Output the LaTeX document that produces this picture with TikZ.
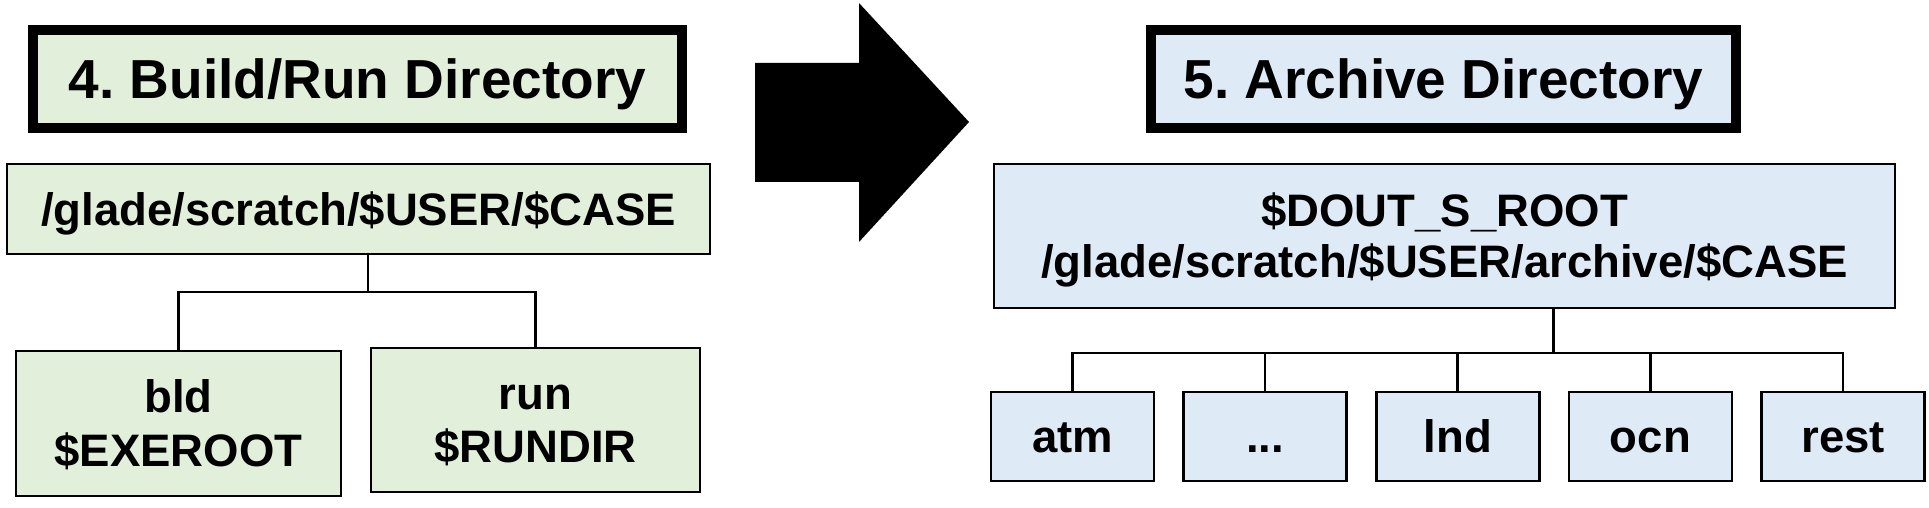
\documentclass[tikz,border=0pt]{standalone}
\usepackage{fontspec}
\setmainfont{Liberation Sans}
\usetikzlibrary{positioning}
\definecolor{buildgreen}{HTML}{E2EFDA}
\definecolor{archiveblue}{HTML}{DEEBF7}
\newcommand{\topstrut}{\rule{0pt}{1.0em}}
\newcommand{\botstrut}{\rule[-0.3em]{0pt}{0.3em}}

\begin{document}
\frenchspacing
\begin{tikzpicture}[
        node distance=0.54cm,
        title_box/.style={draw, rectangle, line width=0.2cm, minimum width=12.98cm, minimum height=1.96cm, inner sep=0pt, text height=22.4pt, text depth=0pt, font=\fontsize{31.3}{36}\selectfont\bfseries},
        dir_box/.style={draw, rectangle, line width=1.5pt, align=center, inner sep=0pt, font=\fontsize{25.9}{30.6}\selectfont\bfseries},
        comp_box/.style={dir_box, fill=archiveblue, minimum width=3.26cm, minimum height=1.78cm, text height=18.5pt, text depth=0pt},
        tree_line/.style={line width=1.5pt}
    ]
        \useasboundingbox (0,0) rectangle (38.58,10.16);

        % build / run side
        \node[title_box, fill=buildgreen] (build_title) at (7.15, 8.58) {4. Build/Run Directory};
        \node[dir_box, fill=buildgreen, minimum width=14.06cm, minimum height=1.8cm, text height=18.5pt, text depth=0pt] (case_dir) at (7.17, 5.98) {/glade/scratch/\$USER/\$CASE};
        \node[dir_box, fill=buildgreen, minimum width=6.5cm, minimum height=2.9cm] (bld_dir) at (3.57, 1.69) {\topstrut bld\\\$EXEROOT\botstrut};
        \node[dir_box, fill=buildgreen, minimum width=6.58cm, minimum height=2.88cm] (run_dir) at (10.71, 1.76) {\topstrut run\\\$RUNDIR\botstrut};

        \coordinate (build_split) at (7.36, 4.32);
        \draw[tree_line] (case_dir.south -| build_split) -- (build_split);
        \draw[tree_line] (bld_dir.north) |- (build_split) -| (run_dir.north);

        % big arrow
        \fill (15.1,8.9) -- (17.18,8.9) -- (17.18,10.1) -- (19.38,7.72) -- (17.18,5.32) -- (17.18,6.52) -- (15.1,6.52) -- cycle;

        % archive side
        \node[title_box, fill=archiveblue, minimum width=11.7cm] (archive_title) at (28.87, 8.58) {5. Archive Directory};
        \node[dir_box, fill=archiveblue, minimum width=18.02cm, minimum height=2.88cm, font=\fontsize{25.9}{29}\selectfont\bfseries] (dout_dir) at (28.89, 5.44) {\topstrut\$DOUT\_S\_ROOT\\/glade/scratch/\$USER/archive/\$CASE\botstrut};

        \node[comp_box] (atm_dir) at (21.45, 1.43) {atm};
        \node[comp_box, right=of atm_dir] (dots_dir) {...};
        \node[comp_box, right=of dots_dir] (lnd_dir) {lnd};
        \node[comp_box, right=of lnd_dir] (ocn_dir) {ocn};
        \node[comp_box, right=of ocn_dir] (rest_dir) {rest};

        \coordinate (archive_split) at (31.07, 3.1);
        \draw[tree_line] (dout_dir.south -| archive_split) -- (archive_split);
        \draw[tree_line] (atm_dir.north) |- (archive_split) -| (rest_dir.north);
        \foreach \comp in {dots_dir, lnd_dir, ocn_dir}
            \draw[tree_line] (\comp.north) -- (\comp.north |- archive_split);

    \end{tikzpicture}
\end{document}
